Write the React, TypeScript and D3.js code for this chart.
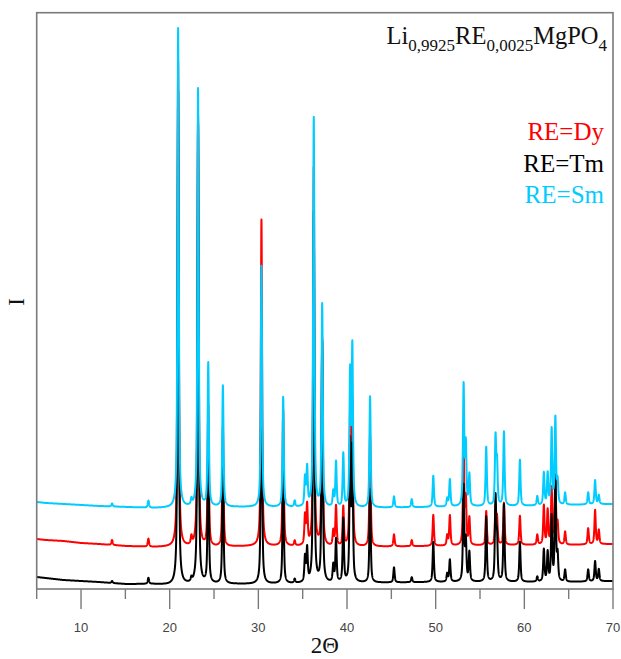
import React from "react";
import * as d3 from "d3";

// ---- data ----
const X_DOMAIN: [number, number] = [5, 70];
const Y_DOMAIN: [number, number] = [0, 576];
const MAJOR_TICKS = [10, 20, 30, 40, 50, 60, 70];
const MINOR_TICKS = [5, 15, 25, 35, 45, 55, 65];

const SERIES_NAMES = ["RE=Dy", "RE=Tm", "RE=Sm"];
const SERIES_COLORS = ["#ff0000", "#000000", "#00ccff"];

// baseline knots (2θ, intensity)
const BASE_X = [5, 6, 8, 10, 12, 15, 18, 20, 25, 30, 40, 50, 60, 65, 70];
const BASE_DY = [50, 49, 48, 46, 45, 43, 42, 42, 42, 43, 42, 43, 44, 44, 45];
const BASE_TM = [12, 11, 9, 8, 7, 5, 5, 4, 5, 5, 6, 7, 7, 7, 8];
const BASE_SM = [87, 86, 85, 84, 83, 82, 81, 81, 82, 82, 81, 82, 83, 84, 85];

// peak positions (2θ) and heights above the baseline for each sample
const PEAK_POS = [
  13.5, 17.6, 20.95, 22.45, 23.2, 24.35, 26.0, 30.35, 32.8, 34.1, 35.26, 35.5,
  36.25, 37.2, 38.45, 38.76, 39.58, 40.35, 40.6, 42.6, 45.3, 47.3, 49.73,
  51.3, 51.6, 53.15, 53.4, 53.8, 55.7, 56.75, 56.92, 57.7, 59.5, 61.46, 62.2,
  62.63, 63.08, 63.5, 63.75, 64.6, 67.2, 67.98, 68.4,
];
const PEAK_DY = [
  5, 8, 485, 8, 430, 140, 120, 326, 136, 5, 29, 39,
  378, 207, 15, 40, 39, 130, 140, 112, 12, 6, 31,
  10, 30, 100, 45, 27, 34, 37, 25, 42, 29, 10, 39,
  34, 56, 66, 20, 13, 16, 34, 14,
];
const PEAK_TM = [
  2, 6, 494, 4, 460, 140, 122, 250, 115, 4, 25, 33,
  370, 240, 17, 43, 63, 137, 130, 93, 15, 5, 40,
  8, 22, 95, 40, 29, 65, 82, 40, 77, 40, 5, 32,
  29, 64, 104, 25, 12, 12, 20, 12,
];
const PEAK_SM = [
  3, 7, 479, 6, 418, 143, 121, 241, 110, 6, 28, 38,
  389, 202, 15, 45, 53, 132, 158, 111, 11, 8, 31,
  8, 27, 120, 60, 31, 59, 67, 40, 74, 46, 9, 32,
  31, 75, 86, 22, 12, 12, 24, 9,
];

const TITLE_PARTS: [string, boolean][] = [
  ["Li", false],
  ["0,9925", true],
  ["RE", false],
  ["0,0025", true],
  ["MgPO", false],
  ["4", true],
];
const X_LABEL = "2Θ";
const Y_LABEL = "I";

// ---- layout ----
const W = 621;
const H = 659;
const LEFT = 36.7;
const RIGHT = 613;
const TOP = 12.7;
const BOTTOM = 589;

function buildSeries(baseY: number[], heights: number[]): [number, number][] {
  const baseline = d3.scaleLinear().domain(BASE_X).range(baseY).clamp(true);
  const w = 0.17;
  const eta = 0.65;
  const pts: [number, number][] = [];
  const grid = d3.range(X_DOMAIN[0], X_DOMAIN[1] + 0.0001, 0.01);
  for (const x of grid) {
    let y = baseline(x);
    for (let i = 0; i < PEAK_POS.length; i++) {
      const d = (x - PEAK_POS[i]) / w;
      if (Math.abs(d) > 40) continue;
      const L = 1 / (1 + 4 * d * d);
      const G = Math.exp(-4 * Math.LN2 * d * d);
      y += heights[i] * (eta * L + (1 - eta) * G);
    }
    pts.push([x, y]);
  }
  return pts;
}

export default function App() {
  const x = d3.scaleLinear().domain(X_DOMAIN).range([LEFT, RIGHT]);
  const y = d3.scaleLinear().domain(Y_DOMAIN).range([BOTTOM, TOP]);
  const line = d3
    .line<[number, number]>()
    .x((d) => x(d[0]))
    .y((d) => y(d[1]));

  const series = [
    buildSeries(BASE_DY, PEAK_DY),
    buildSeries(BASE_TM, PEAK_TM),
    buildSeries(BASE_SM, PEAK_SM),
  ];

  const frameColor = "#7a7a7a";
  const serif = "'Liberation Serif', 'Times New Roman', serif";
  const sans = "'Liberation Sans', Arial, sans-serif";
  const mainSize = 24.5;
  const subSize = 17;
  const subShift = 7;

  return (
    <svg
      width={W}
      height={H}
      style={{ position: "absolute", left: 0, top: 0, background: "#fff" }}
    >
      <defs>
        <clipPath id="plot">
          <rect x={LEFT} y={TOP} width={RIGHT - LEFT} height={BOTTOM - TOP} />
        </clipPath>
      </defs>
      <g clipPath="url(#plot)">
        {series.map((s, i) => (
          <path
            key={i}
            d={line(s) || ""}
            fill="none"
            stroke={SERIES_COLORS[i]}
            strokeWidth={2}
            strokeLinejoin="round"
          />
        ))}
      </g>
      {/* frame */}
      <rect
        x={LEFT}
        y={TOP}
        width={RIGHT - LEFT}
        height={BOTTOM - TOP}
        fill="none"
        stroke={frameColor}
        strokeWidth={1.6}
      />
      {/* ticks */}
      {MAJOR_TICKS.map((t) => (
        <g key={"M" + t}>
          <line
            x1={x(t)}
            x2={x(t)}
            y1={BOTTOM}
            y2={BOTTOM + 20}
            stroke={frameColor}
            strokeWidth={1.4}
          />
          <text
            x={x(t)}
            y={631.5}
            textAnchor="middle"
            fontFamily={sans}
            fontSize={13}
            fill="#444"
          >
            {t}
          </text>
        </g>
      ))}
      {MINOR_TICKS.map((t) => (
        <line
          key={"m" + t}
          x1={x(t)}
          x2={x(t)}
          y1={BOTTOM}
          y2={BOTTOM + 10}
          stroke={frameColor}
          strokeWidth={1.4}
        />
      ))}
      {/* axis labels */}
      <text
        x={(LEFT + RIGHT) / 2}
        y={653}
        textAnchor="middle"
        fontFamily={serif}
        fontSize={23}
        fill="#111"
      >
        {X_LABEL}
      </text>
      <text
        transform={`translate(24, ${(TOP + BOTTOM) / 2 + 1}) rotate(-90)`}
        textAnchor="middle"
        fontFamily={serif}
        fontSize={23}
        fill="#111"
      >
        {Y_LABEL}
      </text>
      {/* title */}
      <text
        x={607}
        y={44}
        textAnchor="end"
        fontFamily={serif}
        fontSize={mainSize}
        fill="#111"
      >
        {TITLE_PARTS.map(([t, sub], i) => (
          <tspan
            key={i}
            fontSize={sub ? subSize : mainSize}
            dy={
              sub
                ? subShift
                : i > 0 && TITLE_PARTS[i - 1][1]
                ? -subShift
                : 0
            }
          >
            {t}
          </tspan>
        ))}
      </text>
      {/* legend */}
      {SERIES_NAMES.map((n, i) => (
        <text
          key={n}
          x={604}
          y={140 + i * 31.5}
          textAnchor="end"
          fontFamily={serif}
          fontSize={25}
          fill={SERIES_COLORS[i]}
        >
          {n}
        </text>
      ))}
    </svg>
  );
}
